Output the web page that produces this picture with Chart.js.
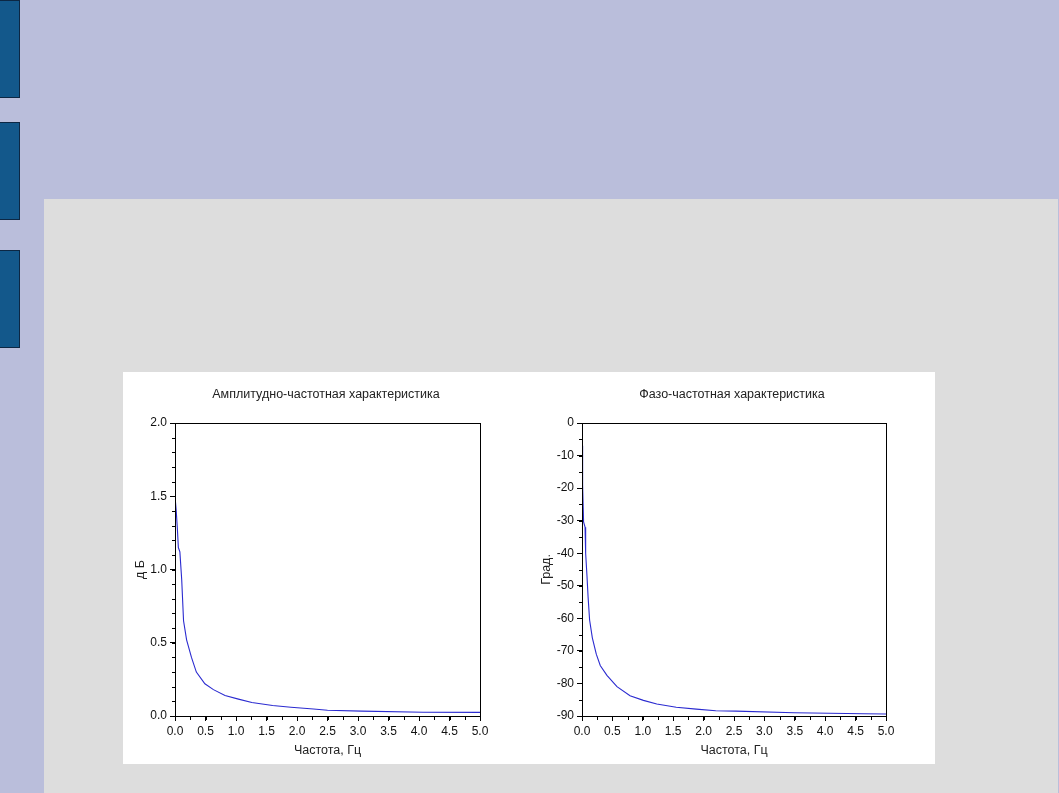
<!DOCTYPE html>
<html>
<head>
<meta charset="utf-8">
<script src="https://cdn.jsdelivr.net/npm/chart.js@4.4.0/dist/chart.umd.min.js"></script>
<style>
  html, body { margin: 0; padding: 0; }
  body { width: 1059px; height: 793px; background: #babedb; position: relative; overflow: hidden; }
  .tab { position: absolute; left: 0; width: 19px; background: #13588b; border: 1px solid #0c2744; border-left: none; }
  #panel { position: absolute; left: 44px; top: 199px; width: 1014px; height: 594px; background: #dddddd; }
  #fig { position: absolute; left: 123px; top: 372px; width: 812px; height: 392px; background: #ffffff; }
  canvas { position: absolute; top: 0; }
</style>
</head>
<body>
<div class="tab" style="top:0;height:96px"></div>
<div class="tab" style="top:122px;height:96px"></div>
<div class="tab" style="top:250px;height:96px"></div>
<div id="panel"></div>
<div id="fig">
  <canvas id="ampChart" width="406" height="392" style="left:0"></canvas>
  <canvas id="phaseChart" width="406" height="392" style="left:406px"></canvas>
</div>
<script>
"use strict";
// values
const ampFreq = [0, 0.02, 0.04, 0.055, 0.08, 0.11, 0.14, 0.19, 0.27, 0.35, 0.49, 0.63, 0.82, 1.04, 1.26, 1.6, 1.9, 2.27, 2.5, 3.06, 4.07, 5.0];
const ampVal = [1.50, 1.40, 1.27, 1.15, 1.12, 0.93, 0.65, 0.52, 0.40, 0.30, 0.22, 0.18, 0.14, 0.115, 0.092, 0.072, 0.060, 0.048, 0.039, 0.033, 0.026, 0.025];
const phaseFreq = [0, 0.01, 0.026, 0.05, 0.06, 0.082, 0.1, 0.125, 0.17, 0.235, 0.3, 0.41, 0.575, 0.79, 1.01, 1.23, 1.55, 1.88, 2.2, 2.53, 3.49, 4.64, 5.0];
const phaseVal = [-7, -19, -30.4, -32, -40, -47, -53.4, -60.5, -66, -71, -74.5, -77.5, -81, -83.8, -85.2, -86.3, -87.3, -87.9, -88.4, -88.5, -89.0, -89.3, -89.4];
const xTickStep = 0.5, xMinorStep = 0.25;
const ampTickStep = 0.5, ampMinorStep = 0.1;
const phaseTickStep = 10, phaseMinorStep = 5;

const lineColor = "#2b2bd0";
const font = "'Liberation Sans', Arial, sans-serif";

// frame round the plot + minor ticks
const framePlugin = {
    id: "frame",
    afterDraw(chart, args, opts) {
        const {ctx, chartArea: a, scales} = chart;
        ctx.save();
        ctx.strokeStyle = "#000";
        ctx.lineWidth = 1;
        ctx.strokeRect(a.left + 0.5, a.top + 0.5, a.right - a.left, a.bottom - a.top);
        ctx.beginPath();
        const xs = scales.x;
        for (let v = xs.min; v <= xs.max + 1e-9; v += opts.xMinor) {
            const px = Math.round(xs.getPixelForValue(v)) + 0.5;
            ctx.moveTo(px, a.bottom);
            ctx.lineTo(px, a.bottom + 4);
        }
        const ys = scales.y;
        for (let v = ys.min; v <= ys.max + 1e-9; v += opts.yMinor) {
            const py = Math.round(ys.getPixelForValue(v)) + 0.5;
            ctx.moveTo(a.left, py);
            ctx.lineTo(a.left - 3, py);
        }
        ctx.stroke();
        ctx.restore();
    }
};

function makeChart(id, title, yTitle, xs, ys, yMin, yMax, yStep, yMinor, yFmt) {
    return new Chart(id, {
        type: "line",
        data: {
            datasets: [{
                data: xs.map((x, i) => ({x: x, y: ys[i]})),
                borderColor: lineColor,
                borderWidth: 1.1,
                pointRadius: 0,
                tension: 0,
            }]
        },
        options: {
            responsive: false,
            animation: false,
            layout: {padding: 0},
            plugins: {
                legend: {display: false},
                tooltip: {enabled: false},
                title: {
                    display: true,
                    text: title,
                    color: "#222",
                    font: {family: font, size: 12.5, weight: "normal"},
                    padding: {top: 15.5, bottom: 20.5},
                },
                frame: {xMinor: xMinorStep, yMinor: yMinor},
            },
            scales: {
                x: {
                    type: "linear",
                    min: 0, max: 5,
                    afterFit: s => { s.height = 48; },
                    ticks: {stepSize: xTickStep, color: "#111", padding: 3, maxRotation: 0,
                        font: {family: font, size: 12}, callback: v => v.toFixed(1)},
                    grid: {drawOnChartArea: false, tickLength: 5, tickColor: "#000"},
                    border: {color: "#000"},
                    title: {display: true, text: "Частота, Гц", color: "#222",
                        font: {family: font, size: 12.5}, padding: {top: 0, bottom: 5.5}},
                },
                y: {
                    min: yMin, max: yMax,
                    afterFit: s => { s.width = id === "ampChart" ? 52 : 53; },
                    ticks: {stepSize: yStep, color: "#111", padding: 3,
                        font: {family: font, size: 12}, callback: yFmt},
                    grid: {drawOnChartArea: false, tickLength: 5, tickColor: "#000"},
                    border: {color: "#000"},
                    title: {display: true, text: yTitle, color: "#222",
                        font: {family: font, size: 12.5}, padding: {top: 10.5, bottom: 0}},
                },
                // empty right-hand box, keeps the title centred over the plot
                yRight: {
                    position: "right",
                    afterFit: s => { s.width = 49; },
                    grid: {display: false},
                    ticks: {display: false},
                    border: {display: false},
                }
            }
        },
        plugins: [framePlugin]
    });
}

makeChart("ampChart", "Амплитудно-частотная характеристика", "д Б",
    ampFreq, ampVal, 0, 2, ampTickStep, ampMinorStep, v => v.toFixed(1));
makeChart("phaseChart", "Фазо-частотная характеристика", "Град.",
    phaseFreq, phaseVal, -90, 0, phaseTickStep, phaseMinorStep, v => String(v));
</script>
</body>
</html>
